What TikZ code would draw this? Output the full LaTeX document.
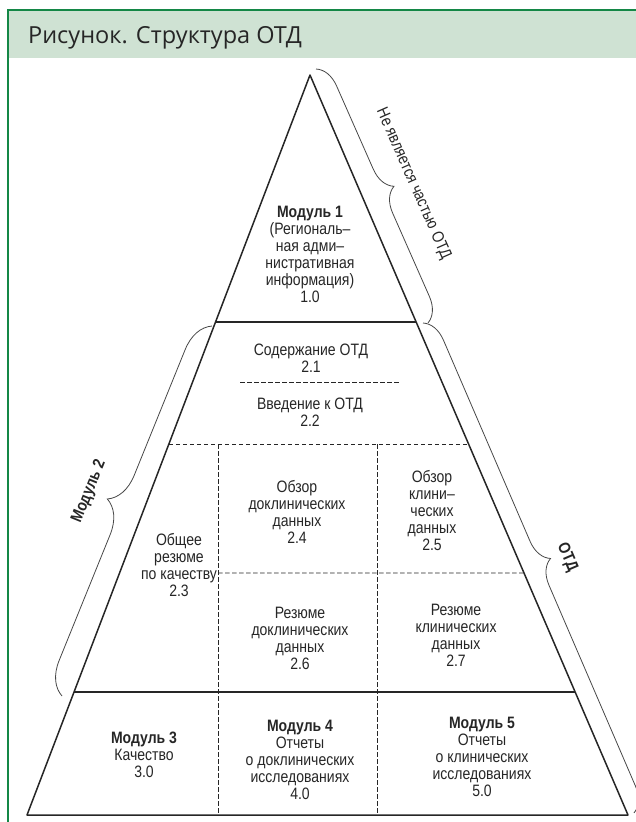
\documentclass[tikz,border=0pt]{standalone}
\usepackage{fontspec}
\setmainfont{Liberation Sans}
\newfontfamily\pyrfont[FakeStretch=0.85]{Liberation Sans}
\newfontfamily\hdrfont{Open Sans}
\usetikzlibrary{calc,decorations.pathreplacing}
\definecolor{frmgreen}{RGB}{20,135,70}
\definecolor{hdrgreen}{RGB}{207,226,211}
\definecolor{inkgray}{RGB}{38,38,38}
\begin{document}
\begin{tikzpicture}[x=1pt,y=-1pt,
  every node/.style={font=\pyrfont\fontsize{16.5}{17}\selectfont,text=inkgray,align=center,inner sep=1pt},
  bt/.style={font=\pyrfont\bfseries\fontsize{16.5}{17}\selectfont},
  edge/.style={draw=inkgray,line width=1.5pt,line join=round},
  dsh/.style={draw=inkgray,line width=0.8pt,dash pattern=on 4.5pt off 2.5pt},
  brc/.style={draw=inkgray!85,line width=0.8pt,decorate}]
\useasboundingbox (0,0) rectangle (636,822);
\clip (0,0) rectangle (636,822);
\fill[hdrgreen] (8,10) rectangle (640,58);
\draw[frmgreen,line width=2.5pt] (8,830) -- (8,10) -- (640,10);
\node[anchor=base west,font=\hdrfont\fontsize{23.5}{26}\selectfont,text=black!85] (title) at (27,43) {Рисунок. Структура ОТД};

\coordinate (apex) at (310,75); \coordinate (bl) at (27,815); \coordinate (br) at (628,815);
\foreach \n/\t in {a/0.3338,b/0.4986,c/0.673,d/0.8338}{
  \coordinate (l\n) at ($(apex)!\t!(bl)$); \coordinate (r\n) at ($(apex)!\t!(br)$);}
\draw[dsh] (240,382) -- (401,382);
\draw[dsh] (lb) -- (rb); \draw[dsh] (218,573) -- (rc);
\draw[dsh] (218,444) -- (218,815); \draw[dsh] (377,444) -- (377,815);
\draw[edge] (la) -- (ra); \draw[edge] (ld) -- (rd);
\draw[edge] (bl) -- (apex) -- (br) -- cycle;

\node (mod1) at (310,254) {\textbf{Модуль 1}\\(Региональ–\\ная адми–\\нистративная\\информация)\\1.0};
\node (sod) at (311,358) {Содержание ОТД\\2.1};
\node (vved) at (310,412) {Введение к ОТД\\2.2};
\node (qos) at (179,565) {Общее\\резюме\\по качеству\\2.3};
\node (ovnc) at (297,512) {Обзор\\доклинических\\данных\\2.4};
\node (ovcl) at (432,511) {Обзор\\клини–\\ческих\\данных\\2.5};
\node (rznc) at (300,638) {Резюме\\доклинических\\данных\\2.6};
\node (rzcl) at (456,635) {Резюме\\клинических\\данных\\2.7};
\node (mod3) at (144,755) {\textbf{Модуль 3}\\Качество\\3.0};
\node (mod4) at (300,760) {\textbf{Модуль 4}\\Отчеты\\о доклинических\\исследованиях\\4.0};
\node (mod5) at (482,757) {\textbf{Модуль 5}\\Отчеты\\о клинических\\исследованиях\\5.0};

\coordinate (tS) at (316,69); \coordinate (tE) at (428,323);
\coordinate (oS) at (423,323); \coordinate (oE) at (634,813);
\coordinate (mE) at (62,696); \coordinate (mS) at (212,326);
\draw[brc,decoration={brace,amplitude=24pt}] (tS) -- (tE);
\draw[brc,decoration={brace,amplitude=24pt}] (oS) -- (oE);
\draw[brc,decoration={brace,amplitude=32pt}] (mE) -- (mS);
\path (tS) -- (tE) node[pos=0.52,sloped,above=34pt] (notctd) {Не является частью ОТД};
\path (oS) -- (oE) node[pos=0.51,sloped,above=31pt,bt] (ctd) {ОТД};
\path (mE) -- (mS) node[pos=0.5,sloped,above=43pt,bt] (mod2) {Модуль 2};
\end{tikzpicture}
\end{document}
